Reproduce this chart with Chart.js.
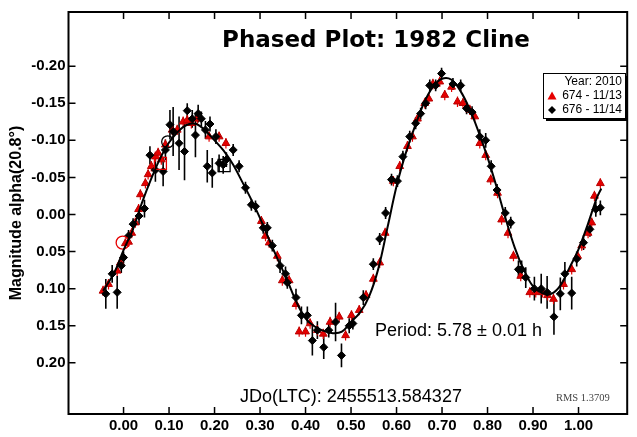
<!DOCTYPE html>
<html>
<head>
<meta charset="utf-8">
<title>Phased Plot: 1982 Cline</title>
<script src="https://cdn.jsdelivr.net/npm/chart.js@4.4.1/dist/chart.umd.min.js"></script>
<style>
  html, body { margin: 0; padding: 0; background: #fff; }
  #chart { display: block; }
</style>
</head>
<body>
<canvas id="chart" width="637" height="437"></canvas>
<script>
// Marcas de los ejes
const xTicks = [0.0, 0.1, 0.2, 0.3, 0.4, 0.5, 0.6, 0.7, 0.8, 0.9, 1.0];
const yTicks = [-0.20, -0.15, -0.10, -0.05, 0.0, 0.05, 0.10, 0.15, 0.20];

// Serie 674 - 11/13 (triángulos rojos)
const phase674 = [-0.045, -0.033, -0.014, -0.007, 0.004, 0.011, 0.018, 0.026, 0.033, 0.037,
  0.048, 0.054, 0.061, 0.070, 0.076, 0.083, 0.092, 0.107, 0.118, 0.131,
  0.140, 0.149, 0.162, 0.188, 0.210, 0.225, 0.303, 0.312, 0.320, 0.338,
  0.349, 0.364, 0.379, 0.386, 0.400, 0.410, 0.426, 0.439, 0.454, 0.474,
  0.488, 0.501, 0.518, 0.533, 0.549, 0.563, 0.575, 0.593, 0.607, 0.624,
  0.635, 0.646, 0.662, 0.671, 0.680, 0.695, 0.706, 0.721, 0.734, 0.746,
  0.761, 0.772, 0.783, 0.796, 0.807, 0.822, 0.831, 0.845, 0.857, 0.873,
  0.893, 0.906, 0.921, 0.932, 0.945, 0.967, 0.985, 0.998, 1.007, 1.021,
  1.029, 1.035, 1.048];
const mag674 = [0.103, 0.094, 0.076, 0.065, 0.039, 0.037, 0.025, 0.011, -0.007, -0.027,
  -0.042, -0.054, -0.065, -0.078, -0.083, -0.074, -0.094, -0.114, -0.114, -0.125,
  -0.127, -0.123, -0.129, -0.105, -0.105, -0.096, 0.009, 0.029, 0.038, 0.056,
  0.089, 0.089, 0.121, 0.158, 0.158, 0.147, 0.156, 0.161, 0.145, 0.138,
  0.163, 0.136, 0.129, 0.109, 0.087, 0.065, 0.025, -0.045, -0.065, -0.092,
  -0.105, -0.129, -0.150, -0.156, -0.176, -0.179, -0.161, -0.172, -0.152, -0.150,
  -0.141, -0.132, -0.096, -0.080, -0.047, -0.029, 0.007, 0.025, 0.056, 0.083,
  0.105, 0.105, 0.105, 0.109, 0.114, 0.094, 0.074, 0.056, 0.042, 0.025,
  0.011, -0.025, -0.042];
const err674 = 0.007;

// Serie 676 - 11/14 (rombos negros con barras de error)
const phase676 = [-0.039, -0.025, -0.014, -0.005, 0.000, 0.011, 0.021, 0.034, 0.046, 0.058,
  0.070, 0.087, 0.092, 0.102, 0.109, 0.122, 0.134, 0.140, 0.151, 0.158,
  0.164, 0.171, 0.180, 0.184, 0.190, 0.195, 0.203, 0.210, 0.219, 0.226,
  0.241, 0.254, 0.268, 0.281, 0.290, 0.307, 0.316, 0.327, 0.344, 0.356,
  0.360, 0.379, 0.391, 0.404, 0.415, 0.426, 0.440, 0.451, 0.466, 0.479,
  0.496, 0.504, 0.527, 0.549, 0.563, 0.576, 0.589, 0.602, 0.614, 0.629,
  0.642, 0.653, 0.664, 0.673, 0.686, 0.699, 0.724, 0.741, 0.754, 0.766,
  0.783, 0.796, 0.808, 0.821, 0.839, 0.851, 0.868, 0.875, 0.884, 0.903,
  0.918, 0.931, 0.946, 0.960, 0.970, 0.985, 0.996, 1.011, 1.025, 1.038,
  1.048];
const mag676 = [0.107, 0.080, 0.105, 0.069, 0.058, 0.029, 0.013, 0.002, -0.008, -0.080,
  -0.060, -0.058, -0.087, -0.121, -0.112, -0.096, -0.085, -0.140, -0.129, -0.107,
  -0.136, -0.129, -0.114, -0.065, -0.122, -0.056, -0.105, -0.069, -0.067, -0.074,
  -0.087, -0.065, -0.036, -0.013, -0.011, 0.018, 0.018, 0.042, 0.069, 0.080,
  0.092, 0.112, 0.136, 0.136, 0.170, 0.156, 0.179, 0.156, 0.145, 0.190,
  0.150, 0.147, 0.112, 0.067, 0.033, -0.002, -0.047, -0.045, -0.078, -0.105,
  -0.123, -0.136, -0.150, -0.174, -0.174, -0.190, -0.176, -0.174, -0.143, -0.138,
  -0.105, -0.100, -0.065, -0.033, -0.002, 0.011, 0.074, 0.074, 0.085, 0.100,
  0.100, 0.105, 0.138, 0.107, 0.080, 0.106, 0.060, 0.038, 0.020, -0.007,
  -0.009];
const err676 = [0.020, 0.012, 0.022, 0.010, 0.008, 0.008, 0.008, 0.012, 0.012, 0.012,
  0.016, 0.020, 0.014, 0.020, 0.033, 0.036, 0.039, 0.010, 0.012, 0.030,
  0.012, 0.010, 0.012, 0.022, 0.010, 0.020, 0.010, 0.012, 0.012, 0.010,
  0.008, 0.008, 0.008, 0.008, 0.008, 0.008, 0.008, 0.008, 0.010, 0.010,
  0.008, 0.012, 0.012, 0.012, 0.020, 0.012, 0.016, 0.010, 0.026, 0.016,
  0.010, 0.008, 0.010, 0.008, 0.008, 0.008, 0.008, 0.008, 0.008, 0.008,
  0.008, 0.008, 0.008, 0.008, 0.008, 0.008, 0.008, 0.008, 0.008, 0.008,
  0.010, 0.010, 0.008, 0.008, 0.008, 0.008, 0.012, 0.012, 0.014, 0.016,
  0.020, 0.022, 0.024, 0.022, 0.016, 0.022, 0.010, 0.010, 0.010, 0.010,
  0.010];

// Curva de ajuste (Fourier)
const fitPhase = [-0.045, -0.02, 0.00, 0.02, 0.04, 0.06, 0.08, 0.10, 0.12, 0.14,
  0.16, 0.18, 0.20, 0.22, 0.24, 0.26, 0.28, 0.30, 0.32, 0.34,
  0.36, 0.38, 0.40, 0.42, 0.44, 0.46, 0.48, 0.50, 0.52, 0.54,
  0.56, 0.58, 0.60, 0.62, 0.64, 0.66, 0.68, 0.70, 0.72, 0.74,
  0.76, 0.78, 0.80, 0.82, 0.84, 0.86, 0.88, 0.90, 0.92, 0.94,
  0.96, 0.98, 1.00, 1.02, 1.04, 1.05];
const fitMag = [0.103, 0.078, 0.048, 0.021, -0.015, -0.047, -0.075, -0.097, -0.112, -0.121,
  -0.122, -0.113, -0.100, -0.086, -0.068, -0.045, -0.021, 0.005, 0.034, 0.062,
  0.089, 0.118, 0.140, 0.151, 0.157, 0.160, 0.158, 0.145, 0.132, 0.110,
  0.073, 0.018, -0.038, -0.082, -0.118, -0.150, -0.172, -0.183, -0.182, -0.167,
  -0.143, -0.112, -0.077, -0.037, 0.006, 0.045, 0.075, 0.097, 0.106, 0.107,
  0.096, 0.072, 0.047, 0.014, -0.022, -0.035];

// Puntos marcados (círculos y cuadrados abiertos)
const circleMarks = [{ x: -0.002, y: 0.038 }, { x: 0.097, y: -0.098 }];
const squareMarks = [{ x: 0.081, y: -0.069 }, { x: 0.221, y: -0.066 }];

const toPoints = (xs, ys) => xs.map((x, i) => ({ x: x, y: ys[i] }));

// Barras de error verticales, dibujadas debajo de los marcadores
const errorBars = {
  id: "errorBars",
  beforeDatasetsDraw(chart) {
    const { ctx, scales: { x, y } } = chart;
    chart.data.datasets.forEach(ds => {
      if (ds.errors === undefined) return;
      ctx.save();
      ctx.strokeStyle = ds.errColor;
      ctx.lineWidth = ds.errWidth;
      ctx.beginPath();
      ds.data.forEach((p, i) => {
        const e = Array.isArray(ds.errors) ? ds.errors[i] : ds.errors;
        const px = x.getPixelForValue(p.x);
        ctx.moveTo(px, y.getPixelForValue(p.y - e));
        ctx.lineTo(px, y.getPixelForValue(p.y + e));
      });
      ctx.stroke();
      ctx.restore();
    });
  }
};

// Marco y marcas hacia dentro en los cuatro lados
const frame = {
  id: "frame",
  afterDraw(chart) {
    const { ctx, chartArea: a, scales: { x, y } } = chart;
    ctx.save();
    ctx.strokeStyle = "#000";
    ctx.lineWidth = 2;
    ctx.strokeRect(a.left, a.top, a.right - a.left, a.bottom - a.top);
    ctx.lineWidth = 1.5;
    ctx.beginPath();
    xTicks.forEach(v => {
      const px = x.getPixelForValue(v);
      ctx.moveTo(px, a.bottom); ctx.lineTo(px, a.bottom - 7);
      ctx.moveTo(px, a.top); ctx.lineTo(px, a.top + 7);
    });
    yTicks.forEach(v => {
      const py = y.getPixelForValue(v);
      ctx.moveTo(a.left, py); ctx.lineTo(a.left + 7, py);
      ctx.moveTo(a.right, py); ctx.lineTo(a.right - 7, py);
    });
    ctx.stroke();
    ctx.restore();
  }
};

// Título, textos y leyenda
const texts = {
  id: "texts",
  afterDraw(chart) {
    const ctx = chart.ctx;
    ctx.save();
    ctx.fillStyle = "#000";
    ctx.textBaseline = "middle";
    ctx.textAlign = "center";
    ctx.font = 'bold 23px "DejaVu Sans"';
    ctx.fillText("Phased Plot: 1982 Cline", 376, 41);

    ctx.font = '18px "Liberation Sans", Arial';
    ctx.textAlign = "left";
    ctx.fillText("Period: 5.78 ± 0.01 h", 375, 331);
    ctx.textAlign = "center";
    ctx.fillText("JDo(LTC): 2455513.584327", 351, 397);

    ctx.font = '10.5px "Liberation Serif"';
    ctx.fillStyle = "#444";
    ctx.textAlign = "left";
    ctx.fillText("RMS 1.3709", 556, 398);

    // leyenda con sombra
    const bx = 543, by = 73, bw = 82, bh = 45;
    ctx.fillStyle = "#000";
    ctx.fillRect(bx + 3, by + 3, bw, bh);
    ctx.fillStyle = "#fff";
    ctx.fillRect(bx, by, bw, bh);
    ctx.strokeStyle = "#000";
    ctx.lineWidth = 1;
    ctx.strokeRect(bx + 0.5, by + 0.5, bw, bh);

    ctx.fillStyle = "#000";
    ctx.textAlign = "right";
    ctx.font = '12px "Liberation Sans", Arial';
    ctx.fillText("Year: 2010", 622, 82);
    ctx.fillText("674 - 11/13", 622, 96);
    ctx.fillText("676 - 11/14", 622, 110);

    ctx.fillStyle = "#e60000";
    ctx.beginPath();
    ctx.moveTo(552, 91.5); ctx.lineTo(556.5, 99.5); ctx.lineTo(547.5, 99.5);
    ctx.closePath(); ctx.fill();
    ctx.fillStyle = "#000";
    ctx.beginPath();
    ctx.moveTo(552, 106); ctx.lineTo(556, 110); ctx.lineTo(552, 114); ctx.lineTo(548, 110);
    ctx.closePath(); ctx.fill();
    ctx.restore();
  }
};

const tickFont = { family: '"Liberation Sans", Arial', size: 15, weight: "bold" };

new Chart(document.getElementById("chart"), {
  type: "scatter",
  data: {
    datasets: [
      {
        type: "line",
        label: "fit",
        data: toPoints(fitPhase, fitMag),
        borderColor: "#000",
        borderWidth: 2,
        pointRadius: 0,
        tension: 0.35,
        fill: false,
        order: 0
      },
      {
        label: "676 - 11/14",
        data: toPoints(phase676, mag676),
        pointStyle: "rectRot",
        pointRadius: 4,
        backgroundColor: "#000",
        borderColor: "#000",
        borderWidth: 1,
        errors: err676,
        errColor: "#000",
        errWidth: 1.6,
        order: 1
      },
      {
        label: "674 - 11/13",
        data: toPoints(phase674, mag674),
        pointStyle: "triangle",
        pointRadius: 4.5,
        backgroundColor: "#e60000",
        borderColor: "#b80000",
        borderWidth: 1,
        errors: err674,
        errColor: "#e60000",
        errWidth: 1.2,
        order: 2
      },
      {
        label: "circles",
        data: [circleMarks[0]],
        pointStyle: "circle",
        pointRadius: 6.5,
        backgroundColor: "rgba(0,0,0,0)",
        borderColor: "#e60000",
        borderWidth: 1.3,
        order: 0
      },
      {
        label: "circles2",
        data: [circleMarks[1]],
        pointStyle: "circle",
        pointRadius: 6,
        backgroundColor: "rgba(0,0,0,0)",
        borderColor: "#000",
        borderWidth: 1.3,
        order: 0
      },
      {
        label: "squares",
        data: [squareMarks[0]],
        pointStyle: "rect",
        pointRadius: 8.5,
        backgroundColor: "rgba(0,0,0,0)",
        borderColor: "#e60000",
        borderWidth: 1.3,
        order: 0
      },
      {
        label: "squares2",
        data: [squareMarks[1]],
        pointStyle: "rect",
        pointRadius: 8.5,
        backgroundColor: "rgba(0,0,0,0)",
        borderColor: "#000",
        borderWidth: 1.3,
        order: 0
      }
    ]
  },
  options: {
    responsive: false,
    animation: false,
    devicePixelRatio: 1,
    layout: { padding: { top: 8, right: 1, left: 0, bottom: 0 } },
    plugins: {
      legend: { display: false },
      tooltip: { enabled: false }
    },
    scales: {
      x: {
        type: "linear",
        min: -0.121,
        max: 1.107,
        grid: { display: false, drawTicks: false },
        border: { display: false },
        afterBuildTicks: s => { s.ticks = xTicks.map(v => ({ value: v })); },
        afterFit: s => { s.height = 23; },
        ticks: {
          padding: 3,
          color: "#000",
          font: tickFont,
          maxRotation: 0,
          autoSkip: false,
          callback: v => v.toFixed(2)
        }
      },
      y: {
        type: "linear",
        reverse: true,
        min: -0.273,
        max: 0.269,
        grid: { display: false, drawTicks: false },
        border: { display: false },
        afterBuildTicks: s => { s.ticks = yTicks.map(v => ({ value: v })); },
        afterFit: s => { s.width = 68.5; },
        title: {
          display: true,
          text: "Magnitude alpha(20.8°)",
          color: "#000",
          font: { family: '"Liberation Sans", Arial', size: 16, weight: "bold" },
          padding: { top: 7, bottom: 0 }
        },
        ticks: {
          padding: 3,
          color: "#000",
          font: tickFont,
          autoSkip: false,
          callback: v => v.toFixed(2)
        }
      }
    }
  },
  plugins: [errorBars, frame, texts]
});
</script>
</body>
</html>
